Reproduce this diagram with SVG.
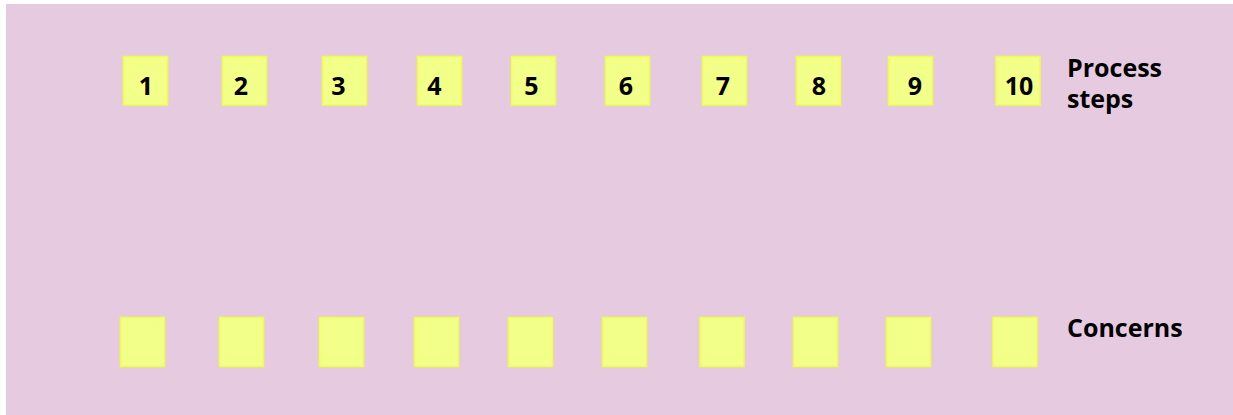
<svg xmlns="http://www.w3.org/2000/svg" width="1233" height="415" viewBox="0 0 1233 415">
<style>
.bg{fill:#E6CBE0}
.box{fill:#F2FF88;stroke:#EEFF44;stroke-width:1.5}
.t{font-family:"Open Sans","Noto Sans",sans-serif;font-weight:bold;font-size:25px;fill:#000}
.n{text-anchor:middle}
</style>
<rect x="0" y="0" width="1233" height="415" fill="#FFFFFF"/>
<rect class="bg" x="6" y="4" width="1227" height="411"/>
<g id="steps">
<g id="step1"><rect class="box" x="123.5" y="56.5" width="44" height="48.5"/><text class="t n" x="146" y="94.5">1</text></g>
<g id="step2"><rect class="box" x="222.5" y="56.5" width="44" height="48.5"/><text class="t n" x="241" y="94.5">2</text></g>
<g id="step3"><rect class="box" x="322.5" y="56.5" width="44" height="48.5"/><text class="t n" x="338.5" y="94.5">3</text></g>
<g id="step4"><rect class="box" x="417.5" y="56.5" width="44" height="48.5"/><text class="t n" x="434.5" y="94.5">4</text></g>
<g id="step5"><rect class="box" x="511.5" y="56.5" width="44" height="48.5"/><text class="t n" x="531.5" y="94.5">5</text></g>
<g id="step6"><rect class="box" x="605.5" y="56.5" width="44" height="48.5"/><text class="t n" x="626" y="94.5">6</text></g>
<g id="step7"><rect class="box" x="702.5" y="56.5" width="44" height="48.5"/><text class="t n" x="723" y="94.5">7</text></g>
<g id="step8"><rect class="box" x="796.5" y="56.5" width="44" height="48.5"/><text class="t n" x="819" y="94.5">8</text></g>
<g id="step9"><rect class="box" x="888.5" y="56.5" width="44" height="48.5"/><text class="t n" x="915" y="94.5">9</text></g>
<g id="step10"><rect class="box" x="996" y="56.5" width="44" height="48.5"/><text class="t n" x="1019" y="94.5">10</text></g>
</g>
<g id="concerns">
<g id="concern1"><rect class="box" x="120.5" y="317.5" width="44" height="49"/></g>
<g id="concern2"><rect class="box" x="219.5" y="317.5" width="44" height="49"/></g>
<g id="concern3"><rect class="box" x="319.5" y="317.5" width="44" height="49"/></g>
<g id="concern4"><rect class="box" x="414.5" y="317.5" width="44" height="49"/></g>
<g id="concern5"><rect class="box" x="508.5" y="317.5" width="44" height="49"/></g>
<g id="concern6"><rect class="box" x="602.5" y="317.5" width="44" height="49"/></g>
<g id="concern7"><rect class="box" x="700" y="317.5" width="44" height="49"/></g>
<g id="concern8"><rect class="box" x="793.5" y="317.5" width="44" height="49"/></g>
<g id="concern9"><rect class="box" x="886.5" y="317.5" width="44" height="49"/></g>
<g id="concern10"><rect class="box" x="993" y="317.5" width="44" height="49"/></g>
</g>
<g id="labels">
<text class="t" x="1067" y="76.5">Process</text>
<text class="t" x="1067" y="107.5">steps</text>
<text class="t" x="1067" y="336.5">Concerns</text>
</g>
<g id="connectors"></g>
</svg>
